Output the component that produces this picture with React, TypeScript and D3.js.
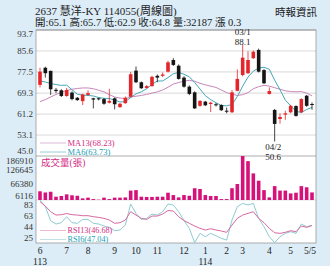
import React from "react";
import * as d3 from "d3";

const W = 330;
const H = 266;

const opens = [72.5,79.1,77.9,70.6,70.4,68.2,69.5,67.5,66.2,68.6,67.3,67.3,67.0,65.6,67.3,63.9,65.4,67.9,78.0,73.5,71.3,72.0,76.0,76.0,77.6,82.1,79.9,75.3,71.8,69.6,64.4,66.0,65.1,65.0,64.7,62.5,61.9,70.2,76.3,77.0,82.8,86.0,78.2,69.0,62.8,59.3,61.0,61.9,64.3,61.9,68.3,65.1];
const highs = [79.1,79.5,78.0,71.3,70.8,71.3,70.0,67.8,69.0,70.4,67.5,67.6,67.4,71.0,67.6,65.5,68.0,77.5,79.6,73.8,72.4,76.0,76.5,77.3,81.8,82.8,80.4,75.8,72.3,70.0,66.6,66.3,66.0,65.5,65.0,63.7,70.5,78.5,88.1,85.5,85.8,86.5,78.6,71.5,63.2,61.5,62.5,64.8,64.6,67.3,68.6,65.7];
const lows = [71.5,75.3,68.6,69.3,67.8,67.9,66.5,66.3,64.7,68.3,63.4,66.5,64.8,65.3,63.0,63.6,65.2,67.6,73.2,70.9,71.0,71.8,73.5,75.5,77.3,79.8,74.5,71.4,68.5,63.2,64.0,64.3,62.0,64.1,62.4,61.5,61.6,70.0,75.8,76.7,82.5,77.3,72.8,68.7,50.6,57.5,59.0,61.5,60.2,61.6,64.0,62.9];
const closes = [77.6,77.0,70.8,70.1,68.2,70.5,67.0,66.6,68.8,69.3,66.8,66.9,65.2,66.3,65.0,65.2,67.5,76.6,73.5,71.2,72.0,75.6,75.3,76.5,81.2,80.2,74.8,71.8,69.0,63.4,66.3,64.6,65.6,64.6,62.7,62.3,69.6,74.8,83.0,82.1,85.3,77.6,73.1,70.1,57.4,60.1,61.5,64.4,60.5,67.0,64.4,64.8];
const volumes = [37000,32000,35000,14000,17000,24000,20000,18000,7000,10000,4000,1500,10000,4000,10000,10000,11000,40000,42000,14000,13000,13000,14000,14000,31000,21000,11000,21000,18000,50000,47000,21000,17000,17000,4000,4000,50000,68000,186910,165000,113000,82000,42000,11000,59000,40000,40000,28000,31000,59000,54000,32187];
const ma6 = [74.0,73.6,73.0,72.6,72.3,72.4,70.6,68.9,68.5,68.4,68.2,67.6,67.3,67.2,66.6,65.9,66.0,67.6,69.0,69.8,71.0,72.7,74.0,74.0,75.3,76.8,77.3,76.6,75.6,73.4,70.9,68.3,66.8,65.6,64.5,64.4,64.9,68.0,72.0,75.5,77.8,79.0,79.3,78.5,74.3,70.6,66.6,64.4,62.3,61.8,63.0,63.73];
const ma13 = [66.0,66.8,67.8,68.8,69.6,70.3,70.8,71.1,71.3,71.3,71.0,70.4,69.8,68.7,67.8,67.4,67.2,67.8,68.1,68.4,68.8,69.3,69.8,70.5,71.6,72.8,73.4,74.0,74.2,73.9,73.1,72.5,72.0,71.5,70.5,69.5,68.9,68.4,68.7,69.5,71.0,71.8,72.3,72.0,71.4,70.8,70.2,69.9,69.8,69.9,69.3,68.23];
const rsi13 = [87,79.6,70,64.4,65,67,65,64.4,63.3,63.3,61.6,60.5,58.8,56,50.4,51.5,56,70,64.4,58.8,57,62.7,62.7,66,72,71.2,61.6,55,50.4,45.9,41.9,39.1,41.3,39.1,37.4,35.2,47.5,58.8,64.4,67.2,70.1,58.8,51.5,41.9,34.5,33.5,35.2,38,36.3,45.9,43.6,46.68];
const rsi6 = [89.8,78.5,54.8,49.2,51.5,61.6,51.5,50.4,57,57,50.4,49.2,45.9,43.6,38,39.1,47.5,83,67.2,57,58.8,66,64.4,70,83,81.3,70.1,55,41.9,17.7,33.5,27.8,33.5,29.5,25,22.2,56,78.5,84.1,81.3,84.1,58.8,44.7,27.8,17.7,27.8,33.5,36.3,33.5,49.2,44.7,47.04];

const priceTicks = [93.7, 85.6, 77.5, 69.3, 61.2, 53.1, 45.0];
const volumeTicks = [186910, 126645, 66380, 6116];
const rsiTicks = [83, 63, 44, 25];
const monthLabels = ["6", "7", "8", "9", "10", "11", "12", "1", "2", "3", "4", "5", "5/5"];
const monthIndex = [0, 5, 9, 14, 18, 22, 27, 31, 35, 38, 43, 47, 51];
const yearLabels = ["113", "114"];
const yearIndex = [0, 31];

const title = "2637  慧洋-KY 114055(周線圖)";
const subtitle = "開:65.1 高:65.7 低:62.9 收:64.8 量:32187 漲 0.3";
const source = "時報資訊";
const highNote = ["03/1", "88.1"];
const lowNote = ["04/2", "50.6"];
const highIdx = 38;
const lowIdx = 44;

const FONT = "'Liberation Serif','Times New Roman','Noto Sans CJK TC',serif";
const BG = "#dcedf8";
const RED = "#e3262b";
const BLK = "#151515";
const MA13C = "#c986b9";
const MA6C = "#45a8b8";
const PINKT = "#d42c83";
const TEALT = "#1ba0b5";
const VOLC = "#d6127a";
const RSI13C = "#d56aa0";
const RSI6C = "#8fcbd2";
const GRID = "#cfcfcf";
const BORDER = "#9a9a9a";

const L = 36, R = 316;
const PT = 30, PB = 156, VB = 200, RB = 243;

export default function App() {
  const n = closes.length;
  const x = d3.scalePoint<number>().domain(d3.range(n)).range([L, R]).padding(0.75);
  const yP = d3.scaleLinear().domain([45, 93.7]).range([PB, PT]);
  const yV = d3.scaleLinear().domain([0, 186910]).range([VB, PB]);
  const yR = d3.scaleLinear().domain([17.2, 89.8]).range([RB, VB]);
  const cw = 3.6;

  const lineP = d3.line<number>().x((_, i) => x(i) as number).y((d) => yP(d));
  const lineR = d3.line<number>().x((_, i) => x(i) as number).y((d) => yR(d));

  const priceLabelY = (t: number, i: number) =>
    i === 0 ? yP(t) + 4 : i === priceTicks.length - 1 ? yP(t) - 5 : yP(t);
  const volLabelY = (t: number, i: number) =>
    i === 0 ? yV(t) + 4.5 : i === volumeTicks.length - 1 ? yV(t) - 3 : yV(t);
  const rsiLabelY = (t: number, i: number) => (i === 0 ? yR(t) + 1 : yR(t));

  const axisFs = 9;

  return (
    <svg width={W} height={H} style={{ display: "block", position: "absolute", left: 0, top: 0 }} fontFamily={FONT}>
      <defs>
        <clipPath id="clipP"><rect x={L} y={PT} width={R - L} height={PB - PT} /></clipPath>
        <clipPath id="clipR"><rect x={L} y={VB} width={R - L} height={RB - VB} /></clipPath>
      </defs>
      <rect x={0} y={0} width={W} height={H} fill={BG} />
      <rect x={L} y={PT} width={R - L} height={RB - PT} fill="#fff" />

      <text x={35} y={15} fontSize={11} fill="#222">{title}</text>
      <text x={35} y={26} fontSize={10.5} fill="#222">{subtitle}</text>
      <text x={317} y={16} fontSize={10.5} fill="#222" textAnchor="end">{source}</text>

      {/* price grid */}
      {priceTicks.map((t, i) => (
        <g key={"pg" + i}>
          <line x1={L} x2={R} y1={yP(t)} y2={yP(t)} stroke={i === 0 || i === priceTicks.length - 1 ? BORDER : GRID} strokeWidth={0.8} />
          <text x={33} y={priceLabelY(t, i)} fontSize={axisFs} textAnchor="end" dominantBaseline="central" fill="#333">{t.toFixed(1)}</text>
        </g>
      ))}
      {volumeTicks.map((t, i) => (
        <text key={"vt" + i} x={33} y={volLabelY(t, i)} fontSize={axisFs} textAnchor="end" dominantBaseline="central" fill="#333">{t}</text>
      ))}
      {rsiTicks.map((t, i) => (
        <text key={"rt" + i} x={33} y={rsiLabelY(t, i)} fontSize={axisFs} textAnchor="end" dominantBaseline="central" fill="#333">{t}</text>
      ))}
      <line x1={L} x2={R} y1={VB} y2={VB} stroke={GRID} strokeWidth={0.6} />
      <rect x={L} y={PT} width={R - L} height={RB - PT} fill="none" stroke={BORDER} strokeWidth={0.8} />

      {/* MA lines */}
      <g clipPath="url(#clipP)">
        <path d={lineP(ma13) || ""} fill="none" stroke={MA13C} strokeWidth={1} />
        <path d={lineP(ma6) || ""} fill="none" stroke={MA6C} strokeWidth={1} />
      </g>

      {/* candles */}
      {closes.map((c, i) => {
        const o = opens[i];
        const up = c >= o;
        const col = up ? RED : BLK;
        const cx = x(i) as number;
        const top = yP(Math.max(o, c));
        const bot = yP(Math.min(o, c));
        return (
          <g key={"c" + i}>
            <line x1={cx} x2={cx} y1={yP(highs[i])} y2={yP(lows[i])} stroke={col} strokeWidth={0.8} />
            <rect x={cx - cw / 2} y={top} width={cw} height={Math.max(bot - top, 1)} fill={col} />
          </g>
        );
      })}

      {/* annotations */}
      <text x={x(highIdx) as number} y={32} fontSize={9} textAnchor="middle" dominantBaseline="central" fill="#222">{highNote[0]}</text>
      <text x={x(highIdx) as number} y={41.5} fontSize={9} textAnchor="middle" dominantBaseline="central" fill="#222">{highNote[1]}</text>
      <text x={(x(lowIdx) as number) - 1.5} y={146.5} fontSize={9} textAnchor="middle" dominantBaseline="central" fill="#222">{lowNote[0]}</text>
      <text x={(x(lowIdx) as number) - 1.5} y={156.5} fontSize={9} textAnchor="middle" dominantBaseline="central" fill="#222">{lowNote[1]}</text>

      {/* MA legend */}
      <line x1={40} x2={66} y1={143} y2={143} stroke={MA13C} strokeWidth={0.8} opacity={0.7} />
      <text x={67.5} y={142.5} fontSize={8.5} dominantBaseline="central" fill={PINKT}>MA13(68.23)</text>
      <line x1={40} x2={66} y1={152} y2={152} stroke={MA6C} strokeWidth={0.8} opacity={0.7} />
      <text x={67.5} y={152} fontSize={8.5} dominantBaseline="central" fill={TEALT}>MA6(63.73)</text>

      {/* volume */}
      <text x={41} y={163} fontSize={9.5} dominantBaseline="central" fill={PINKT}>成交量(張)</text>
      {volumes.map((v, i) => (
        <rect key={"v" + i} x={(x(i) as number) - cw / 2} y={yV(v)} width={cw} height={VB - yV(v)} fill={VOLC} />
      ))}

      {/* RSI */}
      <g clipPath="url(#clipR)">
        <path d={lineR(rsi6) || ""} fill="none" stroke={RSI6C} strokeWidth={1} />
        <path d={lineR(rsi13) || ""} fill="none" stroke={RSI13C} strokeWidth={1} />
      </g>
      <line x1={40} x2={66} y1={230.5} y2={230.5} stroke={RSI13C} strokeWidth={0.8} opacity={0.6} />
      <text x={67.5} y={230.5} fontSize={8.2} dominantBaseline="central" fill={PINKT}>RSI13(46.68)</text>
      <line x1={40} x2={66} y1={239.5} y2={239.5} stroke={RSI6C} strokeWidth={0.8} opacity={0.7} />
      <text x={67.5} y={239.5} fontSize={8.2} dominantBaseline="central" fill={TEALT}>RSI6(47.04)</text>

      {/* x labels */}
      {monthLabels.map((m, i) => (
        <text key={"m" + i} x={(x(monthIndex[i]) as number) - (i === monthLabels.length - 1 ? 2 : 0)} y={251} fontSize={9.5} textAnchor="middle" dominantBaseline="central" fill="#222">{m}</text>
      ))}
      {yearLabels.map((y, i) => (
        <text key={"y" + i} x={x(yearIndex[i]) as number} y={262} fontSize={9.5} textAnchor="middle" dominantBaseline="central" fill="#222">{y}</text>
      ))}
    </svg>
  );
}
